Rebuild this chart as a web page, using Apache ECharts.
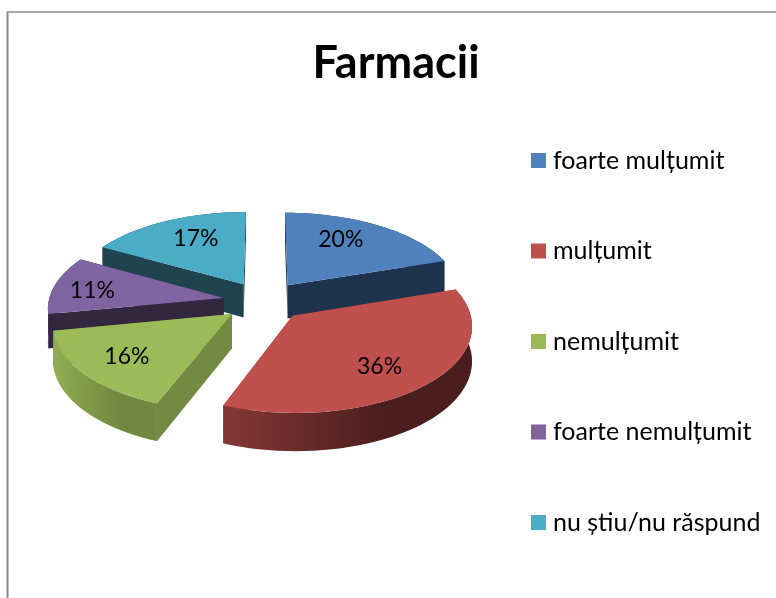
<!DOCTYPE html>
<html>
<head>
<meta charset="utf-8">
<style>
  html, body { margin: 0; padding: 0; background: #fff; }
  #chart { width: 776px; height: 598px; }
</style>
</head>
<body>
<div id="chart"></div>
<script src="https://cdn.jsdelivr.net/npm/echarts@6/dist/echarts.min.js"></script>
<script>
const chartTitle = 'Farmacii'
const categories = ['foarte mulțumit', 'mulțumit', 'nemulțumit', 'foarte nemulțumit', 'nu știu/nu răspund']
const values = [20, 36, 16, 11, 17]

const topColors = ['#4F81BD', '#C0504D', '#9BBB59', '#8064A2', '#4BACC6']
const wallColors = ['#1E334E', '#7A3432', '#728A42', '#33263F', '#1F444F']
const rimColors = [
  ['#1E334E', '#1E334E'],
  ['#853835', '#4A1E1C'],
  ['#90AD52', '#708840'],
  ['#33263F', '#33263F'],
  ['#1F444F', '#1F444F']
]
const paintOrder = [4, 0, 3, 2, 1]
// label distance from the slice apex, in pie radii, then a small pixel nudge
const labelRadius = [0.58, 0.74, 0.76, 0.74, 0.62]
const labelNudge = [[-1, -9], [-10, 1], [6, -2], [-6, 2], [2, -5]]

const total = values.reduce((a, b) => a + b, 0)
const toRad = d => d * Math.PI / 180
const startAngles = values.map((v, i) => values.slice(0, i).reduce((a, b) => a + b, 0) / total * 360)

// tilted disc with a little perspective: the front is drawn larger
const pie = { cx: 264, cy: 301, rx: 175, ry: 85, persp: 0.107, depth: 34, explode: 0.234 }

const project = (X, Y, drop) => {
  const s = 1 + pie.persp * Y
  return [pie.cx + pie.rx * X * s, pie.cy + pie.ry * Y * s + (drop ? pie.depth * s : 0)]
}

const renderSlice = i => () => {
  const from = startAngles[i]
  const sweep = values[i] / total * 360
  const mid = toRad(from + sweep / 2)
  const ox = Math.sin(mid) * pie.explode
  const oy = -Math.cos(mid) * pie.explode
  const onDisc = (deg, r, drop) => project(ox + r * Math.sin(toRad(deg)), oy - r * Math.cos(toRad(deg)), drop)

  const arc = []
  const arcLow = []
  for (let k = 0; k <= 48; k++) {
    const deg = from + sweep * k / 48
    arc.push(onDisc(deg, 1, false))
    arcLow.push(onDisc(deg, 1, true))
  }
  const apex = onDisc(0, 0, false)
  const apexLow = onDisc(0, 0, true)
  const wall = (a, b) => ({
    type: 'polygon',
    shape: { points: [apex, a, b, apexLow] },
    style: { fill: wallColors[i] }
  })

  const labelPos = onDisc(from + sweep / 2, labelRadius[i], false)
  return {
    type: 'group',
    children: [
      wall(arc[0], arcLow[0]),
      wall(arc[48], arcLow[48]),
      {
        type: 'polygon',
        shape: { points: arc.concat(arcLow.slice().reverse()) },
        style: {
          fill: new echarts.graphic.LinearGradient(0, 0, 1, 0, [
            { offset: 0, color: rimColors[i][0] },
            { offset: 0.65, color: rimColors[i][1] },
            { offset: 1, color: rimColors[i][1] }
          ])
        }
      },
      {
        type: 'polygon',
        shape: { points: [apex].concat(arc) },
        style: { fill: topColors[i] }
      },
      {
        type: 'text',
        style: {
          text: values[i] + '%',
          x: labelPos[0] + labelNudge[i][0],
          y: labelPos[1] + labelNudge[i][1],
          align: 'center',
          verticalAlign: 'middle',
          fill: '#000',
          font: '23px Lato'
        }
      }
    ]
  }
}

const chart = echarts.init(document.getElementById('chart'), null, { renderer: 'canvas' })
chart.setOption({
  backgroundColor: '#fff',
  animation: false,
  title: {
    text: chartTitle,
    left: 391,
    top: 36,
    textAlign: 'center',
    textStyle: { fontFamily: 'Lato', fontSize: 45, fontWeight: 'bold', color: '#000' }
  },
  legend: {
    orient: 'vertical',
    left: 531,
    top: 148,
    padding: 0,
    itemWidth: 15,
    itemHeight: 15,
    itemGap: 65.5,
    icon: 'rect',
    selectedMode: false,
    data: categories,
    textStyle: { fontFamily: 'Lato', fontSize: 25, color: '#000', padding: [0, 0, 0, 2] }
  },
  graphic: [
    { type: 'line', shape: { x1: 7.5, y1: 12, x2: 7.5, y2: 598 }, style: { stroke: '#8a8a8a', lineWidth: 2 } },
    { type: 'line', shape: { x1: 7, y1: 12, x2: 776, y2: 12 }, style: { stroke: '#8a8a8a', lineWidth: 1.5 } }
  ],
  series: paintOrder.map((i, n) => ({
    type: 'custom',
    name: categories[i],
    coordinateSystem: 'none',
    z: 2 + n,
    itemStyle: { color: topColors[i] },
    renderItem: renderSlice(i),
    data: [values[i]]
  }))
})
</script>
</body>
</html>
